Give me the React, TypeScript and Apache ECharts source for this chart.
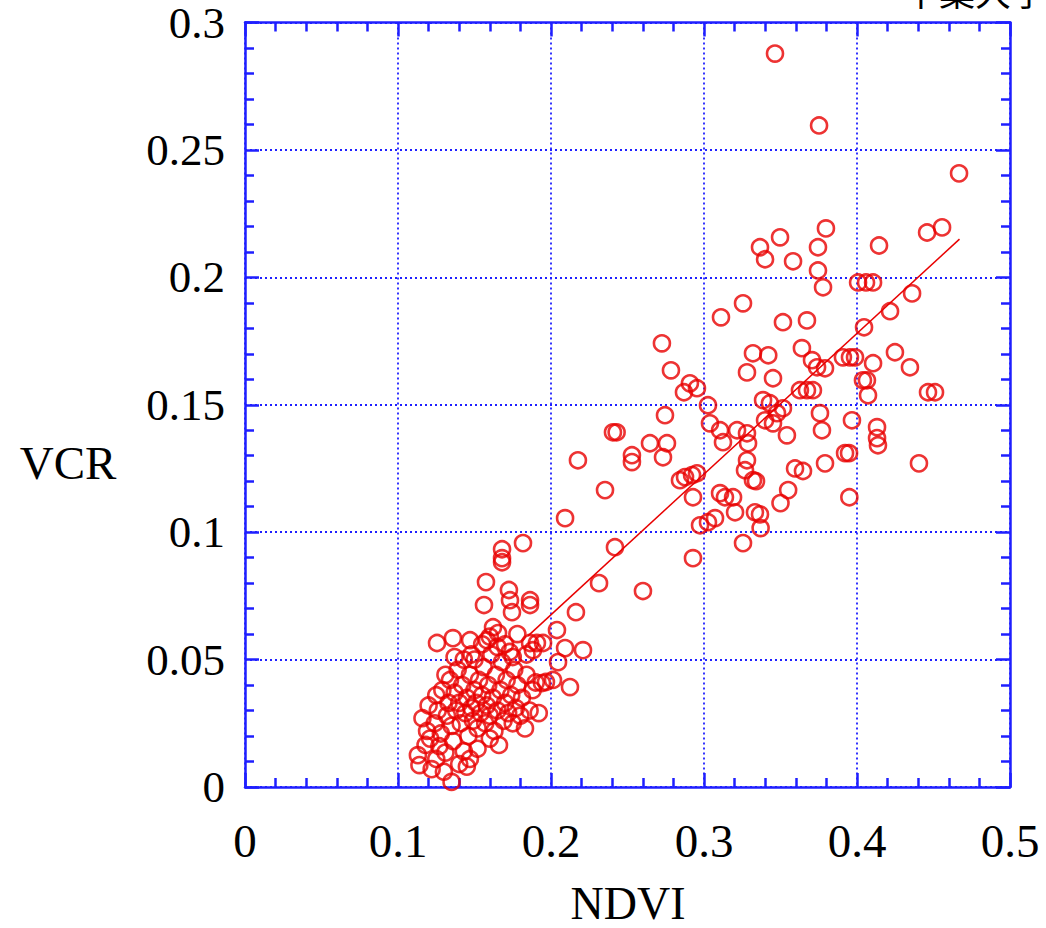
import React, { useEffect, useRef } from "react";
import * as echarts from "echarts";

const xTicks = [0, 0.1, 0.2, 0.3, 0.4, 0.5];
const yTicks = [0, 0.05, 0.1, 0.15, 0.2, 0.25, 0.3];
const xName = "NDVI";
const yName = "VCR";
const corner = "千葉大学";

// sparse points (NDVI, VCR)
const upperPoints: number[][] = [
  [0.3464, 0.2878], [0.3752, 0.2596], [0.4667, 0.2408], [0.4556, 0.2196], [0.4458, 0.2176],
  [0.3797, 0.2192], [0.3497, 0.2157], [0.3366, 0.2118], [0.3399, 0.2071], [0.3582, 0.2063],
  [0.3745, 0.2118], [0.3745, 0.2027], [0.3778, 0.1961], [0.4144, 0.2125],
  [0.4007, 0.198], [0.4059, 0.198], [0.4105, 0.198], [0.436, 0.1937], [0.4216, 0.1867],
  [0.4046, 0.1804], [0.3255, 0.1898], [0.3111, 0.1843], [0.3516, 0.1824], [0.3673, 0.1831],
  [0.332, 0.1702], [0.342, 0.1694], [0.364, 0.1722], [0.3706, 0.1675], [0.3739, 0.1647],
  [0.3791, 0.1643], [0.3908, 0.1686], [0.3954, 0.1686], [0.3987, 0.1686], [0.3281, 0.1627],
  [0.3451, 0.1604], [0.4065, 0.1596], [0.4105, 0.1663], [0.4248, 0.1706], [0.4346, 0.1647],
  [0.4464, 0.1549], [0.451, 0.1549], [0.3627, 0.1557], [0.3673, 0.1557], [0.3712, 0.1557],
  [0.4039, 0.1596], [0.4072, 0.1537], [0.3386, 0.1518], [0.3431, 0.1506], [0.3477, 0.1467],
  [0.3516, 0.1486], [0.3281, 0.1388], [0.3399, 0.1439], [0.3451, 0.1427], [0.3542, 0.138],
  [0.3758, 0.1467], [0.3771, 0.14], [0.3967, 0.1439], [0.4131, 0.1412], [0.4131, 0.1369],
  [0.4137, 0.1341], [0.3922, 0.131], [0.3948, 0.131], [0.3791, 0.127], [0.4405, 0.127],
  [0.3595, 0.125], [0.3647, 0.124], [0.334, 0.12], [0.355, 0.1165], [0.35, 0.1114],
  [0.395, 0.1137], [0.337, 0.1016], [0.3333, 0.1078], [0.3366, 0.107],
  [0.2725, 0.1741], [0.2784, 0.1635], [0.2908, 0.1584], [0.2954, 0.1565], [0.2869, 0.1549],
  [0.3026, 0.1498], [0.2745, 0.1459], [0.2405, 0.1392], [0.2429, 0.1392], [0.2176, 0.1282],
  [0.2647, 0.1349], [0.2758, 0.1349], [0.2529, 0.1302], [0.2529, 0.1275], [0.2732, 0.1294],
  [0.2353, 0.1165], [0.2092, 0.1055], [0.3039, 0.1427], [0.3105, 0.14], [0.3124, 0.1353],
  [0.3216, 0.14], [0.3288, 0.1349], [0.3281, 0.1282], [0.3268, 0.1243], [0.3320, 0.1204],
  [0.2843, 0.1204], [0.2876, 0.1216], [0.2922, 0.1224], [0.2954, 0.1231], [0.2928, 0.1137],
  [0.3105, 0.1153], [0.3137, 0.1137], [0.319, 0.1137], [0.3203, 0.1078], [0.2974, 0.1027],
  [0.3026, 0.1039], [0.3072, 0.1055], [0.3255, 0.0957], [0.2418, 0.0941], [0.2928, 0.0898],
  [0.2314, 0.08], [0.2601, 0.0769], [0.2163, 0.0686],
];

const midPoints: number[][] = [
  [0.1817, 0.0957], [0.168, 0.0933], [0.168, 0.0898], [0.168, 0.0882], [0.1575, 0.0804],
  [0.1562, 0.0714], [0.1725, 0.0773], [0.1732, 0.0733], [0.1745, 0.0686], [0.1863, 0.0733],
  [0.1863, 0.0714], [0.1255, 0.0565], [0.1359, 0.0584], [0.1471, 0.0576], [0.1621, 0.0627],
  [0.1654, 0.0604], [0.1582, 0.0576], [0.1863, 0.0565], [0.1908, 0.0565], [0.1948, 0.0565],
  [0.1882, 0.0537], [0.2039, 0.0616], [0.2092, 0.0545], [0.2209, 0.0537], [0.2046, 0.049],
  [0.2124, 0.0392], [0.1941, 0.0408], [0.2013, 0.042], [0.1967, 0.0412],
];

const clusterPoints: number[][] = [
  [0.113, 0.0125], [0.114, 0.0086], [0.116, 0.027], [0.118, 0.0165], [0.119, 0.022],
  [0.121, 0.019], [0.122, 0.007], [0.124, 0.025], [0.125, 0.011], [0.126, 0.03],
  [0.127, 0.016], [0.128, 0.021], [0.129, 0.038], [0.13, 0.006], [0.131, 0.0135],
  [0.132, 0.028], [0.133, 0.033], [0.134, 0.042], [0.135, 0.002], [0.135, 0.024],
  [0.136, 0.018], [0.137, 0.037], [0.138, 0.03], [0.139, 0.046], [0.14, 0.009],
  [0.14, 0.033], [0.141, 0.025], [0.142, 0.04], [0.143, 0.014], [0.144, 0.029],
  [0.145, 0.035], [0.146, 0.02], [0.147, 0.044], [0.148, 0.031], [0.149, 0.026],
  [0.15, 0.038], [0.15, 0.05], [0.151, 0.033], [0.152, 0.023], [0.153, 0.042],
  [0.154, 0.029], [0.155, 0.036], [0.156, 0.047], [0.157, 0.025], [0.158, 0.032],
  [0.159, 0.04], [0.16, 0.028], [0.161, 0.052], [0.162, 0.035], [0.163, 0.022],
  [0.164, 0.044], [0.165, 0.03], [0.166, 0.0165], [0.167, 0.038], [0.168, 0.049],
  [0.169, 0.026], [0.17, 0.033], [0.171, 0.042], [0.172, 0.029], [0.173, 0.053],
  [0.174, 0.036], [0.175, 0.025], [0.176, 0.046], [0.177, 0.031], [0.178, 0.04],
  [0.18, 0.028], [0.181, 0.035], [0.183, 0.023], [0.184, 0.044], [0.186, 0.03],
  [0.188, 0.038], [0.19, 0.041], [0.192, 0.029], [0.155, 0.056], [0.148, 0.052],
  [0.143, 0.05], [0.16, 0.059], [0.17, 0.056], [0.178, 0.06], [0.184, 0.052],
  [0.175, 0.051], [0.165, 0.055], [0.131, 0.044], [0.125, 0.036], [0.12, 0.032],
  [0.137, 0.051], [0.145, 0.008], [0.152, 0.015], [0.16, 0.019], [0.147, 0.011],
];

const fitLine: number[][] = [
  [0.185, 0.0593],
  [0.467, 0.215],
];

const BLUE = "#1f1fff";
const RED = "#e80000";
const SERIF = "'Liberation Serif', 'DejaVu Serif', serif";

export default function App() {
  const ref = useRef<HTMLDivElement>(null);
  useEffect(() => {
    if (!ref.current) return;
    const chart = echarts.init(ref.current, null, { renderer: "svg" });
    const axisCommon = {
      type: "value" as const,
      axisLine: { show: true, onZero: false, lineStyle: { color: BLUE, width: 2.5 } },
      axisTick: { show: true, inside: true, length: 14, lineStyle: { color: BLUE, width: 2.5 } },
      minorTick: { show: true, splitNumber: 5, length: 9, lineStyle: { color: BLUE, width: 2.5 } },
    };
    const labelStyle = { color: "#000", fontFamily: SERIF, fontSize: 45, lineHeight: 40 };
    const gridLine = { show: true, lineStyle: { color: BLUE, width: 1.8, type: [2, 3] as any } };
    chart.setOption({
      animation: false,
      backgroundColor: "#fff",
      grid: { left: 245, top: 22, width: 765, height: 765 },
      xAxis: [
        {
          ...axisCommon,
          min: xTicks[0],
          max: xTicks[xTicks.length - 1],
          interval: 0.1,
          position: "bottom",
          axisLabel: { ...labelStyle, fontSize: 47, margin: 34 },
          splitLine: gridLine,
        },
        {
          ...axisCommon,
          min: xTicks[0],
          max: xTicks[xTicks.length - 1],
          interval: 0.1,
          position: "top",
          axisLabel: { show: false },
          splitLine: { show: false },
        },
      ],
      yAxis: [
        {
          ...axisCommon,
          min: yTicks[0],
          max: yTicks[yTicks.length - 1],
          interval: 0.05,
          position: "left",
          axisLabel: { ...labelStyle, margin: 20 },
          splitLine: gridLine,
        },
        {
          ...axisCommon,
          min: yTicks[0],
          max: yTicks[yTicks.length - 1],
          interval: 0.05,
          position: "right",
          axisLabel: { show: false },
          splitLine: { show: false },
        },
      ],
      series: [
        {
          type: "line",
          data: fitLine,
          symbol: "none",
          lineStyle: { color: RED, width: 1.5 },
          z: 3,
        },
        {
          type: "scatter",
          data: [...upperPoints, ...midPoints, ...clusterPoints],
          symbol: "circle",
          symbolSize: 16,
          itemStyle: { color: "rgba(0,0,0,0)", borderColor: RED, borderWidth: 2.6 },
          z: 2,
        },
      ],
      graphic: [
        {
          type: "text",
          x: 628,
          y: 903,
          style: { text: xName, font: `46px ${SERIF}`, fill: "#000", textAlign: "center", textVerticalAlign: "middle" },
        },
        {
          type: "text",
          x: 68,
          y: 463,
          style: { text: yName, font: `47px ${SERIF}`, fill: "#000", textAlign: "center", textVerticalAlign: "middle" },
        },
        {
          type: "text",
          x: 903,
          y: -28,
          style: { text: corner, font: `36px 'Noto Sans CJK JP', sans-serif`, fill: "#000" },
        },
      ],
    });
    return () => chart.dispose();
  }, []);
  return (
    <div
      ref={ref}
      style={{ position: "fixed", left: 0, top: 0, width: 1046, height: 928, background: "#fff" }}
    />
  );
}
